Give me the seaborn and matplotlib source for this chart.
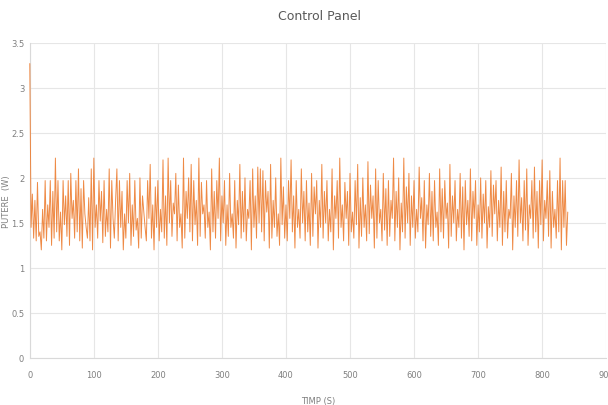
import numpy as np
import pandas as pd
import matplotlib
matplotlib.use("Agg")
import matplotlib.pyplot as plt
import seaborn as sns

title = "Control Panel"
x_label = "TIMP (S)"
y_label = "PUTERE  (W)"
x_ticks = [0, 100, 200, 300, 400, 500, 600, 700, 800, 900]
y_ticks = [0, 0.5, 1, 1.5, 2, 2.5, 3, 3.5]

power = [
    3.27, 1.45, 1.82, 1.33, 1.75, 1.30, 1.95, 1.35, 1.40, 1.20, 1.65, 1.33, 1.97, 1.30, 1.70, 1.45, 1.97, 1.25, 1.85, 1.33,
    2.22, 1.40, 1.97, 1.30, 1.62, 1.20, 1.97, 1.48, 1.80, 1.35, 1.97, 1.25, 2.05, 1.55, 1.75, 1.33, 1.97, 1.40, 2.10, 1.30,
    1.88, 1.22, 1.97, 1.60, 1.45, 1.33, 1.78, 1.30, 2.10, 1.20, 2.22, 1.45, 1.70, 1.33, 1.97, 1.52, 1.85, 1.28, 1.97, 1.35,
    1.65, 1.40, 2.10, 1.22, 1.97, 1.55, 1.33, 1.75, 2.10, 1.30, 1.97, 1.45, 1.85, 1.20, 1.60, 1.33, 1.97, 1.50, 2.05, 1.25,
    1.70, 1.35, 1.97, 1.42, 1.55, 1.22, 2.00, 1.33, 1.80, 1.62, 1.45, 1.30, 1.97, 1.55, 2.15, 1.33, 1.70, 1.20, 1.90, 1.45,
    1.97, 1.30, 1.65, 1.40, 2.20, 1.33, 1.80, 1.25, 2.22, 1.50, 1.97, 1.35, 1.72, 1.60, 2.05, 1.30, 1.92, 1.45, 1.60, 1.22,
    2.22, 1.33, 1.85, 1.55, 2.00, 1.40, 2.15, 1.30, 1.97, 1.48, 1.75, 1.25, 2.22, 1.35, 1.95, 1.60, 1.70, 1.33, 1.97, 1.45,
    1.62, 1.20, 2.10, 1.40, 1.85, 1.33, 1.97, 1.55, 2.22, 1.30, 1.80, 1.50, 1.97, 1.25, 1.70, 1.35, 2.05, 1.45, 1.60, 1.33,
    1.97, 1.22, 1.75, 1.48, 2.15, 1.33, 1.85, 1.40, 2.00, 1.30, 1.65, 1.55, 1.97, 1.20, 2.10, 1.45, 1.80, 1.33, 2.12, 1.50,
    2.10, 1.40, 2.08, 1.30, 1.97, 1.62, 1.85, 1.22, 2.15, 1.33, 1.75, 1.45, 2.00, 1.35, 1.60, 1.25, 2.22, 1.48, 1.90, 1.33,
    1.70, 1.30, 1.97, 1.55, 2.20, 1.40, 1.80, 1.22, 1.97, 1.45, 1.65, 1.33, 2.10, 1.50, 1.85, 1.30, 1.97, 1.40, 1.72, 1.25,
    2.05, 1.35, 1.90, 1.60, 1.97, 1.22, 1.75, 1.45, 2.15, 1.33, 1.85, 1.50, 1.97, 1.30, 1.65, 1.40, 2.10, 1.20, 1.80, 1.55,
    1.97, 1.33, 2.22, 1.45, 1.70, 1.30, 1.95, 1.55, 1.85, 1.25, 2.05, 1.40, 1.62, 1.33, 1.97, 1.48, 2.15, 1.22, 1.78, 1.35,
    2.00, 1.45, 1.70, 1.30, 2.18, 1.38, 1.92, 1.55, 1.80, 1.22, 2.10, 1.33, 1.97, 1.50, 1.65, 1.30, 2.05, 1.42, 1.88, 1.25,
    1.97, 1.35, 1.75, 1.55, 2.22, 1.30, 1.85, 1.45, 2.00, 1.20, 1.72, 1.40, 2.22, 1.33, 1.90, 1.50, 2.05, 1.25, 1.80, 1.45,
    1.97, 1.33, 1.65, 1.40, 2.12, 1.55, 1.78, 1.30, 1.97, 1.22, 1.70, 1.48, 2.05, 1.35, 1.85, 1.30, 1.97, 1.45, 1.62, 1.25,
    2.10, 1.40, 1.88, 1.33, 1.97, 1.55, 1.72, 1.22, 2.15, 1.35, 1.80, 1.50, 1.97, 1.30, 1.65, 1.45, 2.05, 1.33, 1.90, 1.20,
    1.97, 1.48, 1.75, 1.35, 2.10, 1.30, 1.85, 1.55, 1.97, 1.25, 1.70, 1.40, 2.00, 1.33, 1.82, 1.50, 1.97, 1.22, 1.68, 1.45,
    2.08, 1.35, 1.92, 1.60, 1.97, 1.30, 1.75, 1.45, 2.12, 1.25, 1.85, 1.40, 1.97, 1.33, 1.65, 1.55, 2.05, 1.20, 1.80, 1.45,
    1.97, 1.35, 2.20, 1.50, 1.78, 1.30, 1.97, 1.42, 2.10, 1.25, 1.70, 1.55, 1.97, 1.33, 2.12, 1.40, 1.85, 1.22, 1.97, 1.48,
    2.20, 1.30, 1.75, 1.55, 1.97, 1.35, 2.08, 1.22, 1.85, 1.45, 1.65, 1.33, 1.97, 1.40, 2.22, 1.20, 1.97, 1.45, 1.97, 1.25,
    1.62,
]
time_s = list(range(0, 2 * len(power), 2))

df = pd.DataFrame({"time": time_s, "power": power})

sns.set_theme(style="white")
plt.rcParams["font.family"] = ["DejaVu Sans"]

fig = plt.figure(figsize=(6.08, 4.06), dpi=100)
ax = fig.add_axes([0.049, 0.116, 0.948, 0.776])

sns.lineplot(data=df, x="time", y="power", ax=ax, color="#ED7D31", linewidth=0.7, alpha=0.9,
             zorder=3, clip_on=False)

ax.set_xlim(0, 900)
ax.set_ylim(0, 3.5)
ax.set_xticks(x_ticks)
ax.set_yticks(y_ticks)
ax.set_xticklabels([str(v) for v in x_ticks], fontsize=6, color="#7f7f7f")
ax.set_yticklabels([f"{v:g}" for v in y_ticks], fontsize=6, color="#7f7f7f")
ax.tick_params(axis="x", length=0, pad=9)
ax.tick_params(axis="y", length=0, pad=4)
ax.grid(True, color="#e6e6e6", linewidth=0.8)
for s in ["top", "right"]:
    ax.spines[s].set_visible(False)
for s in ["left", "bottom"]:
    ax.spines[s].set_color("#d9d9d9")
    ax.spines[s].set_linewidth(0.8)

ax.set_xlabel(x_label, fontsize=6, color="#7f7f7f", labelpad=12)
ax.set_ylabel(y_label, fontsize=6, color="#7f7f7f")
ax.yaxis.set_label_coords(-0.033, 0.5)
fig.suptitle(title, x=0.525, y=0.975, fontsize=9, color="#595959")

fig.savefig("out.png", dpi=100, facecolor="white")
